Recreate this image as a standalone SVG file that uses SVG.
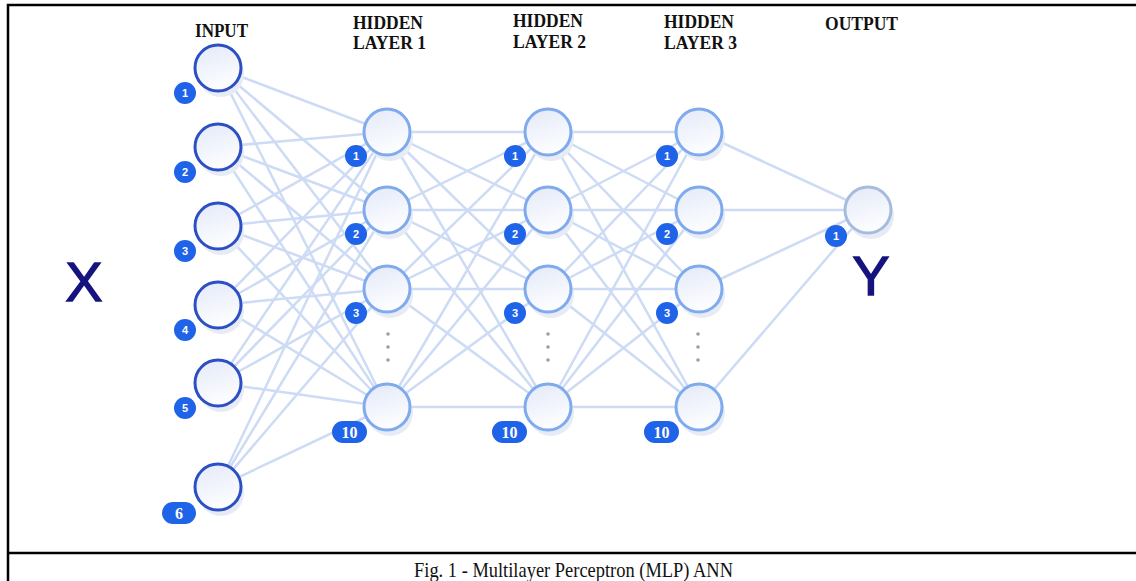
<svg xmlns="http://www.w3.org/2000/svg" width="1136" height="581" viewBox="0 0 1136 581">
<defs>
<linearGradient id="nf" x1="0" y1="0" x2="0.3" y2="1">
<stop offset="0" stop-color="#e3e9f8"/>
<stop offset="1" stop-color="#fcfdff"/>
</linearGradient>
<style>
.c line{stroke:#cddbf5;stroke-width:2.5}
.sh{fill:#e6ebf6}
.in{fill:url(#nf);stroke:#2c50c4;stroke-width:3}
.hd{fill:url(#nf);stroke:#7faaee;stroke-width:3}
.out{fill:url(#nf);stroke:#a6bcdf;stroke-width:3}
.bd{fill:#1f63e9}
.bt{fill:#fff;font-family:"Liberation Sans",Arial,sans-serif;font-weight:bold;font-size:11px;text-anchor:middle}
.pt{fill:#fff;font-family:"Liberation Serif","Times New Roman",serif;font-weight:bold;font-size:16px;text-anchor:middle}
.hdr{fill:#111;font-family:"Liberation Serif","Times New Roman",serif;font-weight:bold;font-size:18.5px}
.big{fill:#15137e;stroke:#15137e;stroke-width:1.3;font-family:"Liberation Sans",Arial,sans-serif;font-size:56px;text-anchor:middle}
.dot{fill:#9aa0aa}
.frame{stroke:#000;stroke-width:2.5;fill:none}
</style>
</defs>
<rect width="1136" height="581" fill="#fff"/>
<path class="frame" d="M8,581 V5 H1136 M8,553 H1136"/>

<g id="connectors" class="c">
<line x1="218" y1="68" x2="387" y2="132"/><line x1="218" y1="68" x2="387" y2="210"/><line x1="218" y1="68" x2="387" y2="289"/><line x1="218" y1="68" x2="387" y2="407"/>
<line x1="218" y1="147" x2="387" y2="132"/><line x1="218" y1="147" x2="387" y2="210"/><line x1="218" y1="147" x2="387" y2="289"/><line x1="218" y1="147" x2="387" y2="407"/>
<line x1="218" y1="226" x2="387" y2="132"/><line x1="218" y1="226" x2="387" y2="210"/><line x1="218" y1="226" x2="387" y2="289"/><line x1="218" y1="226" x2="387" y2="407"/>
<line x1="218" y1="305" x2="387" y2="132"/><line x1="218" y1="305" x2="387" y2="210"/><line x1="218" y1="305" x2="387" y2="289"/><line x1="218" y1="305" x2="387" y2="407"/>
<line x1="218" y1="383" x2="387" y2="132"/><line x1="218" y1="383" x2="387" y2="210"/><line x1="218" y1="383" x2="387" y2="289"/><line x1="218" y1="383" x2="387" y2="407"/>
<line x1="218" y1="487" x2="387" y2="132"/><line x1="218" y1="487" x2="387" y2="210"/><line x1="218" y1="487" x2="387" y2="289"/><line x1="218" y1="487" x2="387" y2="407"/>

<line x1="387" y1="132" x2="548" y2="132"/><line x1="387" y1="132" x2="548" y2="210"/><line x1="387" y1="132" x2="548" y2="289"/><line x1="387" y1="132" x2="548" y2="407"/>
<line x1="387" y1="210" x2="548" y2="132"/><line x1="387" y1="210" x2="548" y2="210"/><line x1="387" y1="210" x2="548" y2="289"/><line x1="387" y1="210" x2="548" y2="407"/>
<line x1="387" y1="289" x2="548" y2="132"/><line x1="387" y1="289" x2="548" y2="210"/><line x1="387" y1="289" x2="548" y2="289"/><line x1="387" y1="289" x2="548" y2="407"/>
<line x1="387" y1="407" x2="548" y2="132"/><line x1="387" y1="407" x2="548" y2="210"/><line x1="387" y1="407" x2="548" y2="289"/><line x1="387" y1="407" x2="548" y2="407"/>

<line x1="548" y1="132" x2="699" y2="132"/><line x1="548" y1="132" x2="699" y2="210"/><line x1="548" y1="132" x2="699" y2="289"/><line x1="548" y1="132" x2="699" y2="407"/>
<line x1="548" y1="210" x2="699" y2="132"/><line x1="548" y1="210" x2="699" y2="210"/><line x1="548" y1="210" x2="699" y2="289"/><line x1="548" y1="210" x2="699" y2="407"/>
<line x1="548" y1="289" x2="699" y2="132"/><line x1="548" y1="289" x2="699" y2="210"/><line x1="548" y1="289" x2="699" y2="289"/><line x1="548" y1="289" x2="699" y2="407"/>
<line x1="548" y1="407" x2="699" y2="132"/><line x1="548" y1="407" x2="699" y2="210"/><line x1="548" y1="407" x2="699" y2="289"/><line x1="548" y1="407" x2="699" y2="407"/>

<line x1="699" y1="132" x2="868" y2="210"/><line x1="699" y1="210" x2="868" y2="210"/><line x1="699" y1="289" x2="868" y2="210"/><line x1="699" y1="407" x2="868" y2="210"/>
</g>

<g id="labels">
<text class="hdr" x="195" y="37" textLength="53" lengthAdjust="spacingAndGlyphs">INPUT</text>
<text class="hdr" x="353" y="29" textLength="70" lengthAdjust="spacingAndGlyphs">HIDDEN</text><text class="hdr" x="353" y="49" textLength="73" lengthAdjust="spacingAndGlyphs">LAYER 1</text>
<text class="hdr" x="513" y="27" textLength="70" lengthAdjust="spacingAndGlyphs">HIDDEN</text><text class="hdr" x="513" y="48" textLength="73" lengthAdjust="spacingAndGlyphs">LAYER 2</text>
<text class="hdr" x="664" y="28" textLength="70" lengthAdjust="spacingAndGlyphs">HIDDEN</text><text class="hdr" x="664" y="49" textLength="73" lengthAdjust="spacingAndGlyphs">LAYER 3</text>
<text class="hdr" x="825" y="30" textLength="73" lengthAdjust="spacingAndGlyphs">OUTPUT</text>
<text class="big" x="84" y="301">X</text>
<text class="big" x="871" y="295">Y</text>
</g>

<g id="input-1"><circle class="sh" cx="221" cy="74" r="23"/><circle class="in" cx="218" cy="68" r="23"/><circle class="bd" cx="185" cy="93" r="11"/><text class="bt" x="185" y="97">1</text></g>
<g id="input-2"><circle class="sh" cx="221" cy="153" r="23"/><circle class="in" cx="218" cy="147" r="23"/><circle class="bd" cx="185" cy="172" r="11"/><text class="bt" x="185" y="176">2</text></g>
<g id="input-3"><circle class="sh" cx="221" cy="232" r="23"/><circle class="in" cx="218" cy="226" r="23"/><circle class="bd" cx="185" cy="251" r="11"/><text class="bt" x="185" y="255">3</text></g>
<g id="input-4"><circle class="sh" cx="221" cy="311" r="23"/><circle class="in" cx="218" cy="305" r="23"/><circle class="bd" cx="185" cy="330" r="11"/><text class="bt" x="185" y="334">4</text></g>
<g id="input-5"><circle class="sh" cx="221" cy="389" r="23"/><circle class="in" cx="218" cy="383" r="23"/><circle class="bd" cx="185" cy="408" r="11"/><text class="bt" x="185" y="412">5</text></g>
<g id="input-6"><circle class="sh" cx="221" cy="493" r="23"/><circle class="in" cx="218" cy="487" r="23"/><rect class="bd" x="162" y="502" width="34" height="22" rx="11"/><text class="pt" x="179" y="519">6</text></g>

<g id="h1-1"><circle class="sh" cx="390" cy="138" r="23"/><circle class="hd" cx="387" cy="132" r="23"/><circle class="bd" cx="356" cy="156" r="11"/><text class="bt" x="356" y="160">1</text></g>
<g id="h1-2"><circle class="sh" cx="390" cy="216" r="23"/><circle class="hd" cx="387" cy="210" r="23"/><circle class="bd" cx="356" cy="234" r="11"/><text class="bt" x="356" y="238">2</text></g>
<g id="h1-3"><circle class="sh" cx="390" cy="295" r="23"/><circle class="hd" cx="387" cy="289" r="23"/><circle class="bd" cx="356" cy="313" r="11"/><text class="bt" x="356" y="317">3</text></g>
<g id="h1-dots"><circle class="dot" cx="388" cy="334" r="1.8"/><circle class="dot" cx="388" cy="347" r="1.8"/><circle class="dot" cx="388" cy="360" r="1.8"/></g>
<g id="h1-10"><circle class="sh" cx="390" cy="413" r="23"/><circle class="hd" cx="387" cy="407" r="23"/><rect class="bd" x="332" y="421" width="35" height="22" rx="11"/><text class="pt" x="349.5" y="438">10</text></g>

<g id="h2-1"><circle class="sh" cx="551" cy="138" r="23"/><circle class="hd" cx="548" cy="132" r="23"/><circle class="bd" cx="515" cy="156" r="11"/><text class="bt" x="515" y="160">1</text></g>
<g id="h2-2"><circle class="sh" cx="551" cy="216" r="23"/><circle class="hd" cx="548" cy="210" r="23"/><circle class="bd" cx="515" cy="234" r="11"/><text class="bt" x="515" y="238">2</text></g>
<g id="h2-3"><circle class="sh" cx="551" cy="295" r="23"/><circle class="hd" cx="548" cy="289" r="23"/><circle class="bd" cx="515" cy="313" r="11"/><text class="bt" x="515" y="317">3</text></g>
<g id="h2-dots"><circle class="dot" cx="548" cy="334" r="1.8"/><circle class="dot" cx="548" cy="347" r="1.8"/><circle class="dot" cx="548" cy="360" r="1.8"/></g>
<g id="h2-10"><circle class="sh" cx="551" cy="413" r="23"/><circle class="hd" cx="548" cy="407" r="23"/><rect class="bd" x="492" y="421" width="35" height="22" rx="11"/><text class="pt" x="509.5" y="438">10</text></g>

<g id="h3-1"><circle class="sh" cx="702" cy="138" r="23"/><circle class="hd" cx="699" cy="132" r="23"/><circle class="bd" cx="667" cy="156" r="11"/><text class="bt" x="667" y="160">1</text></g>
<g id="h3-2"><circle class="sh" cx="702" cy="216" r="23"/><circle class="hd" cx="699" cy="210" r="23"/><circle class="bd" cx="667" cy="234" r="11"/><text class="bt" x="667" y="238">2</text></g>
<g id="h3-3"><circle class="sh" cx="702" cy="295" r="23"/><circle class="hd" cx="699" cy="289" r="23"/><circle class="bd" cx="667" cy="313" r="11"/><text class="bt" x="667" y="317">3</text></g>
<g id="h3-dots"><circle class="dot" cx="698" cy="334" r="1.8"/><circle class="dot" cx="698" cy="347" r="1.8"/><circle class="dot" cx="698" cy="360" r="1.8"/></g>
<g id="h3-10"><circle class="sh" cx="702" cy="413" r="23"/><circle class="hd" cx="699" cy="407" r="23"/><rect class="bd" x="644" y="421" width="35" height="22" rx="11"/><text class="pt" x="661.5" y="438">10</text></g>

<g id="output-1"><circle class="sh" cx="871" cy="216" r="23"/><circle class="out" cx="868" cy="210" r="23"/><circle class="bd" cx="836" cy="236" r="11"/><text class="bt" x="836" y="240">1</text></g>

<g id="caption"><text x="414" y="577" textLength="319" lengthAdjust="spacingAndGlyphs" font-family="'Liberation Serif','Times New Roman',serif" font-size="22" fill="#111">Fig. 1 - Multilayer Perceptron (MLP) ANN</text></g>
</svg>
